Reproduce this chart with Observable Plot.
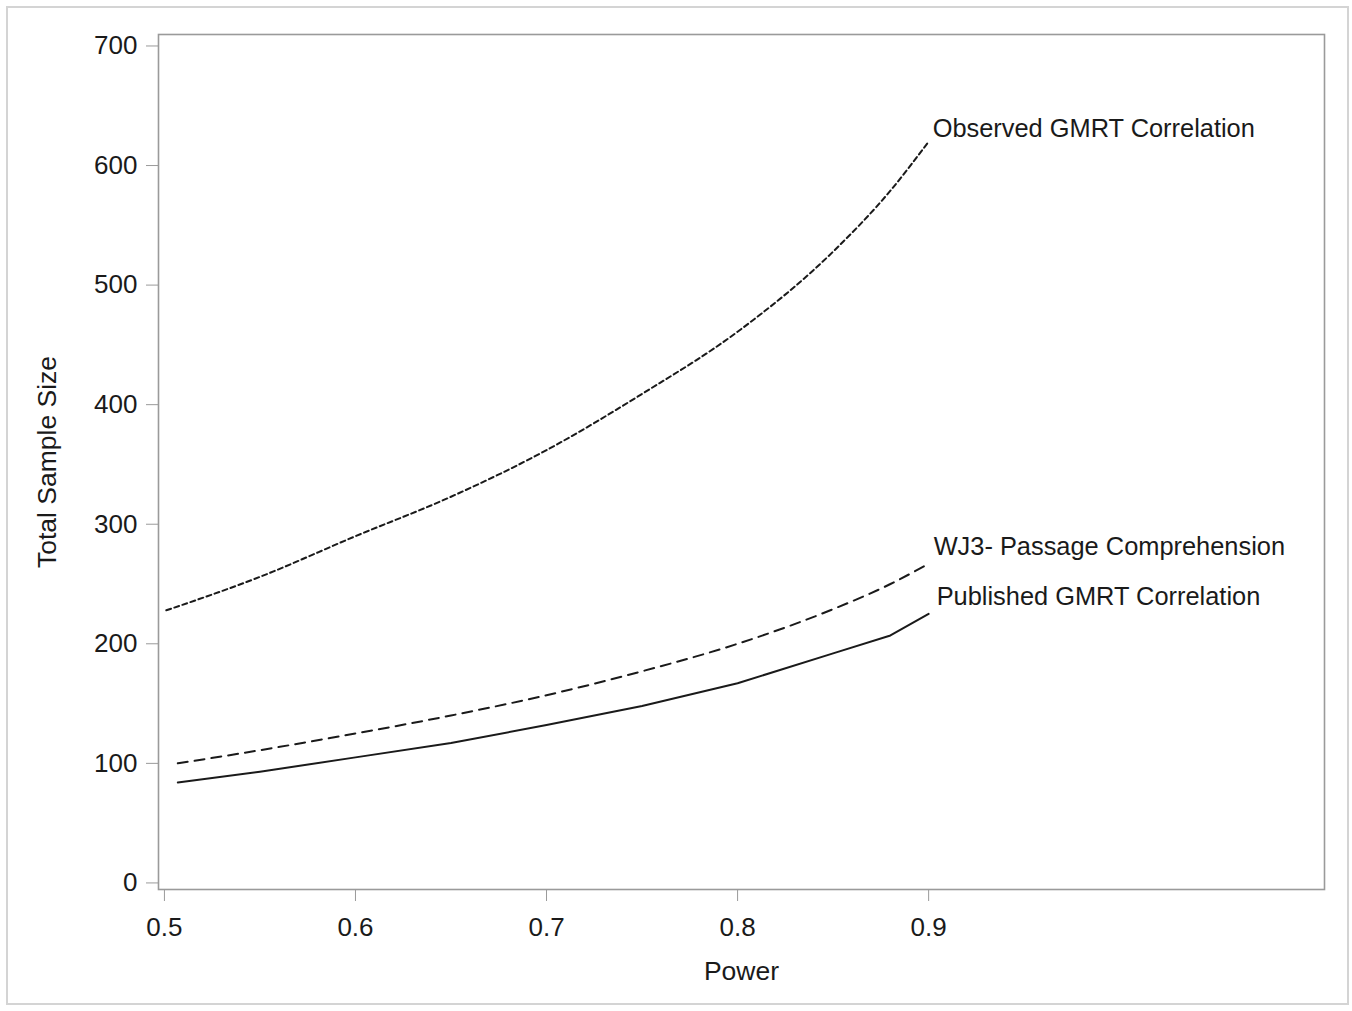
<!DOCTYPE html>
<html>
<head>
<meta charset="utf-8">
<script src="https://cdn.jsdelivr.net/npm/d3@7"></script>
<script src="https://cdn.jsdelivr.net/npm/@observablehq/plot@0.6"></script>
<style>
  body { margin: 0; background: #fff; }
  #wrap { position: relative; width: 1352px; height: 1011px; }
  #wrap svg { position: absolute; left: 0; top: 0; }
  #border { position: absolute; left: 6px; top: 6px; width: 1343px; height: 999px;
            border: 2px solid #d4d4d4; box-sizing: border-box; z-index: 2; pointer-events: none; }
</style>
</head>
<body>
<div id="wrap"><div id="border"></div></div>
<script>
// ---- data ----
const seriesNames = ["Observed GMRT Correlation", "WJ3- Passage Comprehension", "Published GMRT Correlation"];

const powerObserved  = [0.501, 0.55, 0.60, 0.65, 0.70, 0.75, 0.80, 0.85, 0.88, 0.90];
const sizeObserved   = [228, 256, 290, 323, 362, 409, 461, 528, 579, 620];

const powerWJ3       = [0.507, 0.55, 0.60, 0.65, 0.70, 0.75, 0.80, 0.85, 0.88, 0.90];
const sizeWJ3        = [100, 111, 125, 140, 157, 177, 200, 229, 250, 267];

const powerPublished = [0.507, 0.55, 0.60, 0.65, 0.70, 0.75, 0.80, 0.85, 0.88, 0.90];
const sizePublished  = [84, 93, 105, 117, 132, 148, 167, 192, 207, 225];

const xTicks = [0.5, 0.6, 0.7, 0.8, 0.9];
const yTicks = [0, 100, 200, 300, 400, 500, 600, 700];

const xLabel = "Power";
const yLabel = "Total Sample Size";

// ---- build tables ----
const toRows = (px, py, name) => px.map((p, i) => ({power: p, size: py[i], series: name}));
const observed  = toRows(powerObserved,  sizeObserved,  seriesNames[0]);
const wj3       = toRows(powerWJ3,       sizeWJ3,       seriesNames[1]);
const published = toRows(powerPublished, sizePublished, seriesNames[2]);
const last = arr => [arr[arr.length - 1]];

const font = "'Liberation Sans', Arial, sans-serif";
const ink = "#1a1a1a";
const axisGray = "#9a9a9a";

const chart = Plot.plot({
  width: 1352,
  height: 1011,
  marginLeft: 158,
  marginRight: 28,
  marginTop: 34,
  marginBottom: 122,
  style: {fontFamily: font, fontSize: "26px", color: ink, background: "white"},
  x: {domain: [0.4969, 1.1072], ticks: xTicks, tickSize: 12, tickPadding: 16, label: null, tickFormat: d => String(d)},
  y: {domain: [-5.5, 709.6], ticks: yTicks, tickSize: 12, tickPadding: 9, label: null},
  marks: [
    Plot.frame({stroke: axisGray, strokeWidth: 1.6}),
    Plot.line(observed,  {x: "power", y: "size", stroke: ink, strokeWidth: 2, strokeDasharray: "5,3.5", curve: "monotone-x"}),
    Plot.line(wj3,       {x: "power", y: "size", stroke: ink, strokeWidth: 2, strokeDasharray: "10,7", curve: "monotone-x"}),
    Plot.line(published, {x: "power", y: "size", stroke: ink, strokeWidth: 2}),
    Plot.text(last(observed),  {x: "power", y: "size", text: "series", textAnchor: "start", dx: 4, dy: -13, fill: ink, fontSize: 25.4}),
    Plot.text(last(wj3),       {x: "power", y: "size", text: "series", textAnchor: "start", dx: 5, dy: -17, fill: ink, fontSize: 25.4}),
    Plot.text(last(published), {x: "power", y: "size", text: "series", textAnchor: "start", dx: 8, dy: -17, fill: ink, fontSize: 25.4}),
    Plot.text([xLabel], {frameAnchor: "bottom", textAnchor: "middle", lineAnchor: "middle", dy: 82, text: d => d, fill: ink, fontSize: 26.5}),
    Plot.text([yLabel], {frameAnchor: "left", textAnchor: "middle", lineAnchor: "middle", dx: -111, rotate: -90, text: d => d, fill: ink, fontSize: 26.5})
  ]
});

// tint axis tick lines gray like the reference
chart.querySelectorAll("g[aria-label$='tick'] path, g[aria-label$='axis'] path").forEach(p => p.setAttribute("stroke", axisGray));

document.getElementById("wrap").insertBefore(chart, document.getElementById("border"));
</script>
</body>
</html>
